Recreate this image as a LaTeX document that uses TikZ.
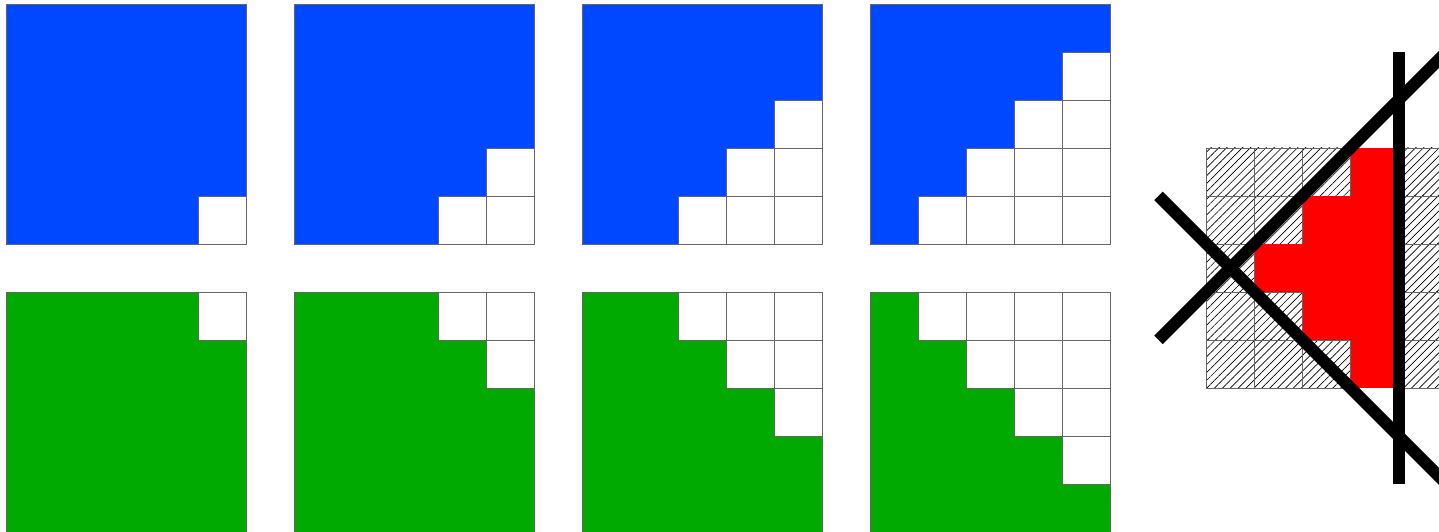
\documentclass[tikz,border=0pt]{standalone}
\usetikzlibrary{patterns.meta}
\definecolor{sqblue}{RGB}{0,72,255}
\definecolor{sqgreen}{RGB}{0,170,0}
\definecolor{sqred}{RGB}{255,0,0}
\begin{document}
\begin{tikzpicture}[x=1cm,y=-1cm,
  cellline/.style={draw=black!60,line width=0.5pt},
  heavy/.style={line width=0.25cm,draw=black},
  hatchcell/.style={pattern={Lines[angle=45,distance=3.3pt,line width=0.4pt]},pattern color=black}]
\useasboundingbox (-0.135,-0.083) rectangle (29.844,11);
% blue squares
\foreach \k in {1,2,3,4}{
  \pgfmathtruncatemacro\ox{6*(\k-1)}
  \fill[sqblue] (\ox,0) rectangle ++(5,5);
  \foreach \r in {0,...,4}{
    \foreach \c in {0,...,4}{
      \ifnum\numexpr\r+\c\relax>\numexpr8-\k\relax
        \fill[white] (\ox+\c,\r) rectangle ++(1,1);
        \draw[cellline] (\ox+\c,\r) rectangle ++(1,1);
      \fi
    }
  }
  \draw[cellline] (\ox,0) rectangle ++(5,5);
}
% green squares
\foreach \k in {1,2,3,4}{
  \pgfmathtruncatemacro\ox{6*(\k-1)}
  \fill[sqgreen] (\ox,6) rectangle ++(5,5);
  \foreach \r in {0,...,4}{
    \foreach \c in {0,...,4}{
      \ifnum\numexpr\c-\r\relax>\numexpr4-\k\relax
        \fill[white] (\ox+\c,6+\r) rectangle ++(1,1);
        \draw[cellline] (\ox+\c,6+\r) rectangle ++(1,1);
      \fi
    }
  }
  \draw[cellline] (\ox,6) rectangle ++(5,5);
}
% right figure
\begin{scope}
\clip (-0.135,-0.083) rectangle (29.844,11);
\foreach \r/\lo/\hi in {0/3/3,1/2/3,2/1/3,3/2/3,4/3/3}{
  \foreach \c in {0,...,5}{
    \ifnum\c<\lo
      \path[hatchcell] (25+\c,3+\r) rectangle ++(1,1);
      \draw[cellline] (25+\c,3+\r) rectangle ++(1,1);
    \else
      \ifnum\c>\hi
        \path[hatchcell] (25+\c,3+\r) rectangle ++(1,1);
        \draw[cellline] (25+\c,3+\r) rectangle ++(1,1);
      \else
        \fill[sqred] (25+\c,3+\r) rectangle ++(1,1);
      \fi
    \fi
  }
}
\draw[heavy] (29,1) -- (29,10);
\draw[heavy] (24,7) -- (30.5,0.5);
\draw[heavy] (24,4) -- (30.5,10.5);
\end{scope}
\end{tikzpicture}
\end{document}
